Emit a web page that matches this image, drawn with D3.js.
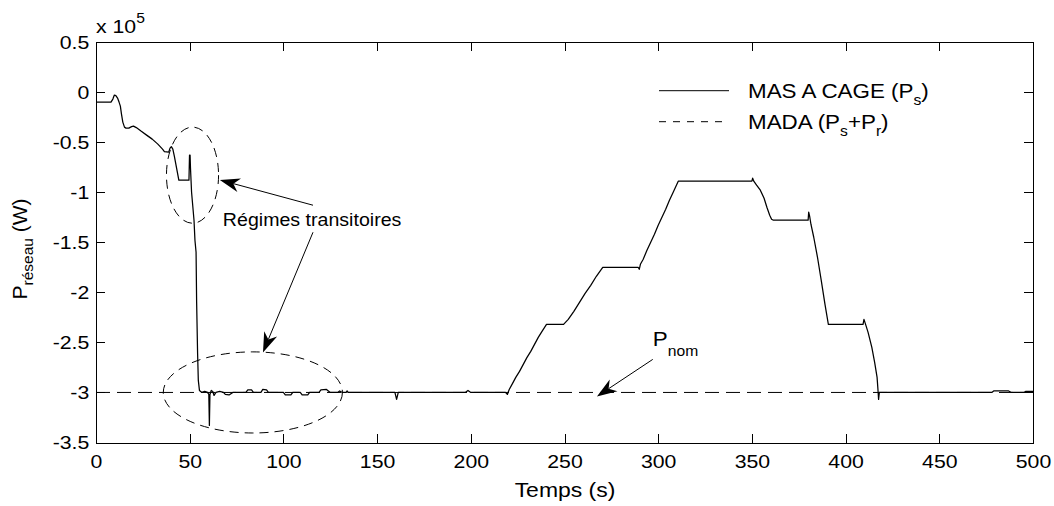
<!DOCTYPE html>
<html><head><meta charset="utf-8">
<script src="https://cdn.jsdelivr.net/npm/d3@7"></script>
<style>html,body{margin:0;padding:0;background:#fff;} svg{display:block;}</style>
</head><body>
<svg id="chart" width="1054" height="506"></svg>
<script>
// ---- data (power in units of 1e5 W) ----
const timeCage = [0,8,9,9.8,10.6,11.5,12.3,13,13.6,14.3,15.2,16,17.5,19,20,21.5,24,27,30,33,35.5,36.5,38.8,39.5,40.2,41,41.8,42.6,43.4,44.2,49.6,49.9,50.2,50.4,51,52.3,52.8,53.4,53.7,54.2,54.6,55.2,56.5,58,59.5,60.2,60.5,60.8,61.5,62.3,63,64,66,68,69,71,73,80,81,83,84,88,89,91,92,100,101,104,105,109,110,113,114,119,120,123,125,129,130,131.5,133.5,134,134.5,159.5,160.4,161.3,197,198.5,200,218.5,219.5,220.5,222,224,226,228,230,232,234,236,238,240.4,249.5,250.5,252,255,258,261,264,267,270.4,289.3,289.9,290.5,292,294,296,298,300,302,304,306,308,310.7,350,350.4,351,352.5,354.5,356.5,358,359.5,360.5,361.5,380,380.3,380.8,381.5,383,385,387,389,390.8,409.3,409.8,410.5,412,414,415.5,416.8,417.3,417.6,418,478,479,487,488.5,495,496,500];
const powerCage = [-0.10,-0.10,-0.07,-0.03,-0.035,-0.06,-0.10,-0.14,-0.22,-0.30,-0.35,-0.36,-0.36,-0.345,-0.34,-0.355,-0.39,-0.43,-0.47,-0.52,-0.57,-0.595,-0.60,-0.56,-0.545,-0.57,-0.64,-0.72,-0.80,-0.88,-0.88,-0.63,-0.63,-0.75,-1.0,-1.28,-1.48,-1.6,-2.1,-2.6,-2.88,-2.98,-3.0,-2.99,-3.0,-3.02,-3.33,-3.02,-2.98,-2.99,-3.03,-3.0,-2.99,-3.0,-3.02,-3.025,-3.0,-3.0,-2.975,-2.975,-3.0,-3.0,-2.97,-2.975,-3.0,-3.0,-3.025,-3.025,-3.0,-3.0,-3.025,-3.025,-3.0,-3.0,-2.975,-2.97,-3.0,-3.0,-2.985,-3.0,-3.0,-2.985,-3.0,-3.0,-3.07,-3.0,-3.0,-2.98,-3.0,-3.0,-3.02,-2.97,-2.92,-2.85,-2.79,-2.72,-2.65,-2.59,-2.52,-2.45,-2.39,-2.32,-2.32,-2.30,-2.27,-2.19,-2.10,-2.01,-1.93,-1.84,-1.75,-1.75,-1.77,-1.72,-1.67,-1.58,-1.50,-1.42,-1.33,-1.25,-1.17,-1.08,-1.00,-0.89,-0.89,-0.86,-0.89,-0.93,-0.98,-1.06,-1.15,-1.23,-1.27,-1.28,-1.28,-1.20,-1.24,-1.32,-1.45,-1.65,-1.88,-2.12,-2.32,-2.32,-2.27,-2.31,-2.40,-2.55,-2.70,-2.85,-2.98,-3.07,-3.0,-3.0,-2.985,-2.985,-3.0,-3.0,-2.99,-2.99];
const timeMada = [0, 500];
const powerMada = [-3, -3];
const xTickValues = [0,50,100,150,200,250,300,350,400,450,500];
const xTickLabels = ["0","50","100","150","200","250","300","350","400","450","500"];
const yTickValues = [0.5,0,-0.5,-1,-1.5,-2,-2.5,-3,-3.5];
const yTickLabels = ["0.5","0","-0.5","-1","-1.5","-2","-2.5","-3","-3.5"];
// annotations (data coordinates)
const ellipseCenters = [[51.5,-0.83],[83.7,-3.0]];
const ellipseRadii = [[13.9,0.48],[47.8,0.405]];
const arrowTails = [[115.8,-1.13],[115.8,-1.40],[297.1,-2.67]];
const arrowTips = [[66.1,-0.878],[89.1,-2.60],[267.3,-3.04]];
const regimeLabelPos = [67.7,-1.34];
const pnomLabelPos = [297.1,-2.54];

const FONT = "'Liberation Sans', Arial, Helvetica, sans-serif";
const SX = 1.12, FS = 19, FSUB = 14, FLEG = 20, FAX = 20.5;

const svg = d3.select("#chart");
const x = d3.scaleLinear().domain([0,500]).range([96,1033]);
const y = d3.scaleLinear().domain([-3.5,0.5]).range([442.5,42]);

// axes
const fmtX = (d)=>xTickLabels[xTickValues.indexOf(d)];
const fmtY = (d)=>yTickLabels[yTickValues.indexOf(d)];
const gB = svg.append("g").attr("transform",`translate(0,${y(-3.5)})`)
  .call(d3.axisBottom(x).tickValues(xTickValues).tickFormat(fmtX).tickSizeInner(-9).tickSizeOuter(0).tickPadding(12));
const gT = svg.append("g").attr("transform",`translate(0,${y(0.5)})`)
  .call(d3.axisTop(x).tickValues(xTickValues).tickFormat("").tickSizeInner(-9).tickSizeOuter(0));
const gL = svg.append("g").attr("transform",`translate(${x(0)},0)`)
  .call(d3.axisLeft(y).tickValues(yTickValues).tickFormat(fmtY).tickSizeInner(-9).tickSizeOuter(0).tickPadding(6));
const gR = svg.append("g").attr("transform",`translate(${x(500)},0)`)
  .call(d3.axisRight(y).tickValues(yTickValues).tickFormat("").tickSizeInner(-9).tickSizeOuter(0));
[gB,gT,gL,gR].forEach(g=>{
  g.selectAll("path,line").attr("stroke","#000").attr("stroke-width",1).attr("shape-rendering","crispEdges");
  g.selectAll("text").attr("font-family",FONT).attr("font-size",FS).attr("fill","#000").attr("transform",`scale(${SX},1)`);
});

// series
const line = d3.line().x(d=>x(d[0])).y(d=>y(d[1]));
svg.append("path").datum(d3.zip(timeMada,powerMada)).attr("d",line)
  .attr("fill","none").attr("stroke","#000").attr("stroke-width",1).attr("stroke-dasharray","14,7");
svg.append("path").datum(d3.zip(timeCage,powerCage)).attr("d",line)
  .attr("fill","none").attr("stroke","#000").attr("stroke-width",1.25).attr("stroke-linejoin","round");

// ellipses
ellipseCenters.forEach((c,i)=>{
  const r = ellipseRadii[i];
  svg.append("ellipse").attr("cx",x(c[0])).attr("cy",y(c[1]))
    .attr("rx",x(r[0])-x(0)).attr("ry",y(0)-y(r[1]))
    .attr("fill","none").attr("stroke","#000").attr("stroke-width",1).attr("stroke-dasharray","9,6");
});

// arrows
arrowTails.forEach((t,i)=>{
  const tip = arrowTips[i];
  const x1=x(t[0]), y1=y(t[1]), x2=x(tip[0]), y2=y(tip[1]);
  const dx=x2-x1, dy=y2-y1, L=Math.hypot(dx,dy), ux=dx/L, uy=dy/L, nx=-uy, ny=ux;
  const hl=20, hw=7, notch=6;
  svg.append("line").attr("x1",x1).attr("y1",y1).attr("x2",x2-ux*(hl-notch)).attr("y2",y2-uy*(hl-notch))
    .attr("stroke","#000").attr("stroke-width",1);
  const bx=x2-ux*hl, by=y2-uy*hl;
  const pts=[[x2,y2],[bx+nx*hw,by+ny*hw],[x2-ux*(hl-notch),y2-uy*(hl-notch)],[bx-nx*hw,by-ny*hw]];
  svg.append("polygon").attr("points",pts.map(p=>p.join(",")).join(" ")).attr("fill","#000");
});

// stretched text helper
function stext(px,py,anchor,size){
  return svg.append("g").attr("transform",`translate(${px},${py}) scale(${SX},1)`)
    .append("text").attr("x",0).attr("y",0).attr("text-anchor",anchor||"start")
    .attr("font-family",FONT).attr("font-size",size||FS).attr("fill","#000");
}
function addParts(t, parts){
  parts.forEach(p=>{
    const ts = t.append("tspan").text(p[0]);
    if(p[1]!==0) ts.attr("dy",p[1]);
    if(p[2]) ts.attr("font-size",p[2]);
  });
}

// annotation texts
stext(x(regimeLabelPos[0]),y(regimeLabelPos[1]),"start",17.5).text("Régimes transitoires");
addParts(stext(x(pnomLabelPos[0]),y(pnomLabelPos[1]),"start",FLEG), [["P",0],["nom",10,FSUB]]);

// exponent
addParts(stext(x(0),33), [["x 10",0],["5",-10,FSUB]]);

// legend
const legendLabels = [
  [["MAS A CAGE (P",0],["s",7,FSUB],[")",-7,FLEG]],
  [["MADA (P",0],["s",7,FSUB],["+P",-7,FLEG],["r",7,FSUB],[")",-7,FLEG]]
];
const legendDash = ["none","7,7"];
const legendY = [90.7,121.7];
legendLabels.forEach((lab,i)=>{
  svg.append("line").attr("x1",659).attr("x2",729).attr("y1",legendY[i]).attr("y2",legendY[i])
    .attr("stroke","#000").attr("stroke-width",1).attr("stroke-dasharray",legendDash[i]);
  addParts(stext(748,legendY[i]+6.8,"start",FLEG), lab);
});

// axis labels
stext(565,497,"middle",FAX).text("Temps (s)");
const yl = svg.append("text").attr("transform","translate(27,249) rotate(-90)")
  .attr("text-anchor","middle").attr("font-family",FONT).attr("font-size",21).attr("fill","#000");
addParts(yl, [["P",0],["réseau",6,15.5],[" (W)",-6,21]]);
</script>
</body></html>
